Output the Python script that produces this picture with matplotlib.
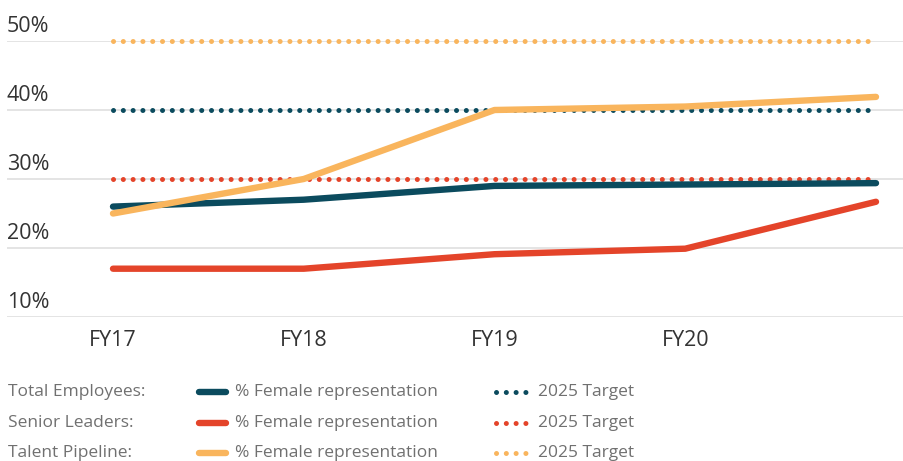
import matplotlib.pyplot as plt
from matplotlib.lines import Line2D

plt.rcParams['font.family'] = ['Open Sans', 'DejaVu Sans']

# data
years = ['FY17', 'FY18', 'FY19', 'FY20', 'FY21']
total_emp = [26, 27, 29, 29.2, 29.4]
senior = [17, 17, 19.1, 19.9, 26.7]
talent = [25, 30, 40, 40.5, 41.9]
targets = [40, 30, 50]  # total, senior, talent
groups = ['Total Employees:', 'Senior Leaders:', 'Talent Pipeline:']
y_ticks = [10, 20, 30, 40, 50]

colors = ['#0b4b5e', '#e4442a', '#f9b55d']
grid_c = '#e2e2e2'
txt_c = '#333333'
leg_c = '#707070'

W, H = 904, 461
fig = plt.figure(figsize=(W / 100, H / 100), dpi=100)

# main axes: left edge 7px, 10% at 317px, 50% at 41px
ax = fig.add_axes([7 / W, 1 - 317 / H, 1 - 7 / W, (317 - 41) / H])
px = 190.75
ax.set_xlim(-(113 - 7) / px, 4 + (W - 876) / px)
ax.set_ylim(10, 50)
ax.axis('off')

for t in y_ticks:
    ax.axhline(t, color=grid_c, lw=1.3, zorder=0)
    ax.text(0.0, t + 1.3, f'{t}%', transform=ax.get_yaxis_transform(),
            ha='left', va='baseline', fontsize=15.5, color=txt_c)

x = list(range(len(years)))
for i in range(len(years) - 1):
    ax.text(x[i], 6.6, years[i], ha='center', va='center',
            fontsize=15.5, color=txt_c, clip_on=False)

for tg, c in zip(targets, colors):
    ax.plot([x[0], x[-1] - 0.03], [tg, tg], color=c, lw=3.6,
            linestyle=(0, (0.01, 1.95)), dash_capstyle='round', zorder=2,
            clip_on=False)

series = [total_emp, senior, talent]
order = [1, 0, 2]
for k in order:
    ax.plot(x, series[k], color=colors[k], lw=4.6,
            solid_capstyle='round', zorder=3 + k, clip_on=False)

# legend area in pixel coordinates
lg = fig.add_axes([0, 0, 1, 1])
lg.set_xlim(0, W)
lg.set_ylim(H, 0)
lg.axis('off')
row_y = [392, 423, 453]
for yy, g, c in zip(row_y, groups, colors):
    lg.text(8, yy, g, ha='left', va='center', fontsize=12.5, color=leg_c)
    lg.add_line(Line2D([199, 226], [yy, yy], color=c, lw=4.6,
                       solid_capstyle='round'))
    lg.text(235, yy, '% Female representation', ha='left', va='center',
            fontsize=12.5, color=leg_c)
    lg.add_line(Line2D([496, 531], [yy, yy], color=c, lw=3.6,
                       linestyle=(0, (0.01, 1.95)), dash_capstyle='round'))
    lg.text(538, yy, '2025 Target', ha='left', va='center',
            fontsize=12.5, color=leg_c)

fig.savefig('out.png', dpi=100, facecolor='white')
